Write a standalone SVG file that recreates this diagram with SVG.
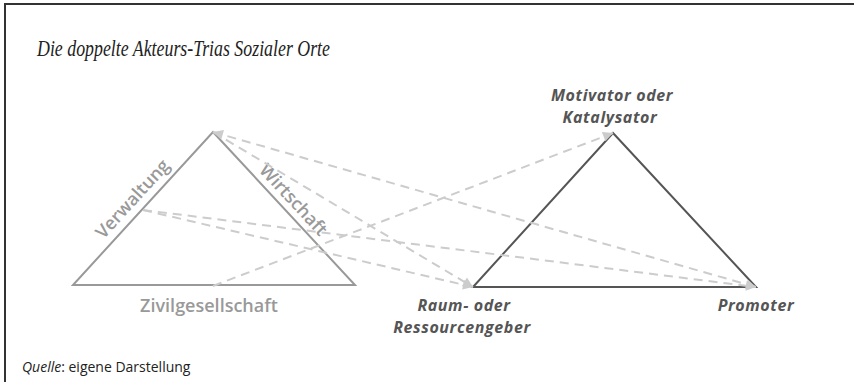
<svg xmlns="http://www.w3.org/2000/svg" width="854" height="382" viewBox="0 0 854 382">
<style>
.title{font-family:"Liberation Serif",serif;font-style:italic;font-size:23px;fill:#222}
.lab1{font-family:"Open Sans","Liberation Sans",sans-serif;font-weight:600;font-size:18px;fill:#999}
.lab2{font-family:"Open Sans","Liberation Sans",sans-serif;font-weight:700;font-style:italic;font-size:16px;letter-spacing:0.6px;fill:#555}
.foot{font-family:"Open Sans","Liberation Sans",sans-serif;font-size:14px;fill:#222}
.tri1{fill:none;stroke:#999;stroke-width:2;stroke-linejoin:miter}
.tri2{fill:none;stroke:#555;stroke-width:2;stroke-linejoin:miter}
.dash{fill:none;stroke:#ccc;stroke-width:2;stroke-dasharray:9 6}
</style>
<defs>
<marker id="ah" viewBox="0 0 10 10" refX="10" refY="5" markerWidth="12" markerHeight="10" markerUnits="userSpaceOnUse" orient="auto-start-reverse">
<path d="M0,0 L10,5 L0,10 z" fill="#ccc"/>
</marker>
</defs>
<rect width="854" height="382" fill="#fff"/>
<path d="M5,382 V4 H854" fill="none" stroke="#333" stroke-width="2"/>
<text class="title" x="37" y="56" textLength="293" lengthAdjust="spacingAndGlyphs">Die doppelte Akteurs-Trias Sozialer Orte</text>
<g id="left-triad">
<polygon class="tri1" points="213,132 355,285 73,285"/>
<text class="lab1" text-anchor="middle" transform="translate(137,203) rotate(-47.5)">Verwaltung</text>
<text class="lab1" text-anchor="middle" transform="translate(289,204) rotate(47.1)">Wirtschaft</text>
<text class="lab1" x="209" y="312" text-anchor="middle">Zivilgesellschaft</text>
</g>
<g id="right-triad">
<polygon class="tri2" points="613,133 756,287 473,287"/>
<text class="lab2" x="612" y="101" text-anchor="middle">Motivator oder</text>
<text class="lab2" x="610" y="123" text-anchor="middle">Katalysator</text>
<text class="lab2" x="464" y="311" text-anchor="middle">Raum- oder</text>
<text class="lab2" x="462" y="333" text-anchor="middle">Ressourcengeber</text>
<text class="lab2" x="756" y="311" text-anchor="middle">Promoter</text>
</g>
<g id="connectors">
<line class="dash" x1="213" y1="132" x2="756" y2="287" marker-start="url(#ah)" marker-end="url(#ah)"/>
<line class="dash" x1="213" y1="132" x2="473" y2="287" marker-end="url(#ah)"/>
<line class="dash" x1="143" y1="210" x2="473" y2="287" marker-end="url(#ah)"/>
<line class="dash" x1="143" y1="210" x2="756" y2="287" marker-end="url(#ah)"/>
<line class="dash" x1="213" y1="286" x2="613" y2="133" marker-end="url(#ah)"/>
</g>
<text class="foot" x="22" y="372"><tspan font-style="italic">Quelle</tspan>: eigene Darstellung</text>
</svg>
